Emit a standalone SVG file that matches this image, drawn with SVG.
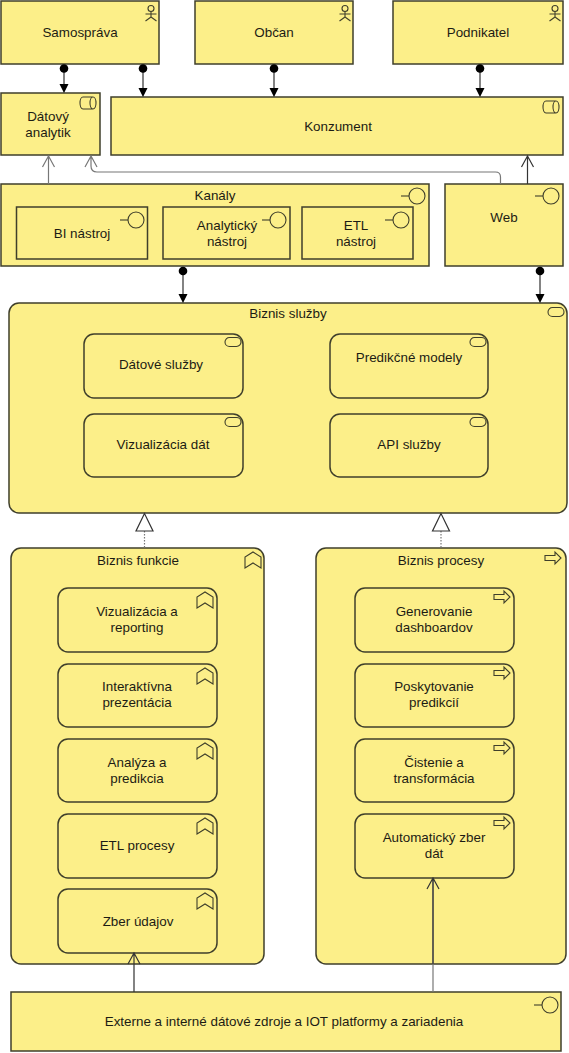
<svg xmlns="http://www.w3.org/2000/svg" width="569" height="1053" viewBox="0 0 569 1053">
<style>
.n{fill:#fcef89;stroke:#3f3f2b;stroke-width:1.5}
.s{fill:none;stroke:#3f3f2b;stroke-width:1.1}
text{font-family:"Liberation Sans",Arial,sans-serif;font-size:13.4px;fill:#1c1c14;text-anchor:middle}
.c{fill:none;stroke:#333;stroke-width:1.2}
.g{fill:none;stroke:#777;stroke-width:1.2}
.d{fill:#000}
</style>
<defs>
<g id="actor" class="s"><circle cx="0" cy="-3.500" r="3"/><path d="M0,-0.500V5M-5.500,2H5.500M-5.500,9L0,5L5.500,9"/></g>
<g id="role" class="s"><path d="M-5,-6H5A3,6 0 0 1 5,6H-5A3,6 0 0 1 -5,-6ZM5,-6A3,6 0 0 0 5,6"/></g>
<g id="iface" class="s"><circle cx="3" cy="0" r="8"/><path d="M-13,0H-5"/></g>
<g id="svc" class="s"><rect x="-8" y="-4.500" width="16" height="9" rx="4.500"/></g>
<g id="func" class="s"><path d="M-8,8V-3L0,-8L8,-3V8L0,3Z"/></g>
<g id="proc" class="s"><path d="M-8,-2.500H2V-6L8,0L2,6V2.500H-8Z"/></g>
</defs>
<g id="samosprava"><rect class="n" x="1" y="1" width="158" height="63"/><use href="#actor" x="151" y="12"/><text x="80" y="37">Samospráva</text></g>
<g id="obcan"><rect class="n" x="195" y="1" width="158" height="63"/><use href="#actor" x="345" y="12"/><text x="274" y="37">Občan</text></g>
<g id="podnikatel"><rect class="n" x="393" y="1" width="170" height="63"/><use href="#actor" x="555" y="12"/><text x="478" y="37">Podnikatel</text></g>
<g id="analytik"><rect class="n" x="1" y="93" width="99" height="62"/><use href="#role" x="88" y="103"/><text x="48" y="121">Dátový</text><text x="48" y="137">analytik</text></g>
<g id="konzument"><rect class="n" x="111" y="97" width="452" height="58"/><use href="#role" x="551" y="107"/><text x="338" y="131">Konzument</text></g>
<g id="kanaly"><rect class="n" x="1" y="184" width="428" height="82"/><use href="#iface" x="414" y="196"/><text x="215" y="200">Kanály</text></g>
<g id="bi"><rect class="n" x="16.500" y="207" width="131" height="52"/><use href="#iface" x="133" y="220"/><text x="82" y="238">BI nástroj</text></g>
<g id="analyticky"><rect class="n" x="163" y="207" width="127" height="52"/><use href="#iface" x="275" y="220"/><text x="227" y="230">Analytický</text><text x="227" y="246">nástroj</text></g>
<g id="etl"><rect class="n" x="302" y="207" width="111" height="52"/><use href="#iface" x="398" y="220"/><text x="356" y="230">ETL</text><text x="356" y="246">nástroj</text></g>
<g id="web"><rect class="n" x="445" y="184" width="118" height="82"/><use href="#iface" x="548" y="196"/><text x="504" y="222">Web</text></g>
<g id="sluzby"><rect class="n" x="9" y="303" width="558" height="210" rx="10"/><use href="#svc" x="556" y="312"/><text x="288" y="318">Biznis služby</text></g>
<g id="datove"><rect class="n" x="84" y="334" width="159" height="64" rx="10"/><use href="#svc" x="233" y="342"/><text x="161" y="369">Dátové služby</text></g>
<g id="predikcne"><rect class="n" x="330" y="334" width="158" height="64" rx="10"/><use href="#svc" x="478" y="342"/><text x="409" y="362">Predikčné modely</text></g>
<g id="vizualizacia"><rect class="n" x="84" y="414" width="159" height="63" rx="10"/><use href="#svc" x="233" y="422"/><text x="163" y="449">Vizualizácia dát</text></g>
<g id="api"><rect class="n" x="330" y="414" width="158" height="63" rx="10"/><use href="#svc" x="478" y="422"/><text x="409" y="449">API služby</text></g>
<g id="funkcie"><rect class="n" x="11" y="548" width="253" height="416" rx="10"/><use href="#func" x="253" y="560"/><text x="138" y="565">Biznis funkcie</text></g>
<g id="f1"><rect class="n" x="58" y="588" width="159" height="64" rx="10"/><use href="#func" x="205" y="600"/><text x="137" y="616">Vizualizácia a</text><text x="137" y="632">reporting</text></g>
<g id="f2"><rect class="n" x="58" y="664" width="159" height="63" rx="10"/><use href="#func" x="205" y="676"/><text x="137" y="691">Interaktívna</text><text x="137" y="707">prezentácia</text></g>
<g id="f3"><rect class="n" x="58" y="739" width="159" height="63" rx="10"/><use href="#func" x="205" y="751"/><text x="137" y="767">Analýza a</text><text x="137" y="783">predikcia</text></g>
<g id="f4"><rect class="n" x="58" y="814" width="159" height="64" rx="10"/><use href="#func" x="205" y="826"/><text x="137" y="850">ETL procesy</text></g>
<g id="f5"><rect class="n" x="58" y="889" width="159" height="64" rx="10"/><use href="#func" x="205" y="901"/><text x="138" y="926">Zber údajov</text></g>
<g id="procesy"><rect class="n" x="316" y="548" width="250" height="416" rx="10"/><use href="#proc" x="553" y="558"/><text x="441" y="565">Biznis procesy</text></g>
<g id="p1"><rect class="n" x="355" y="588" width="159" height="64" rx="10"/><use href="#proc" x="502" y="597"/><text x="434" y="616">Generovanie</text><text x="434" y="632">dashboardov</text></g>
<g id="p2"><rect class="n" x="355" y="664" width="159" height="63" rx="10"/><use href="#proc" x="502" y="673"/><text x="434" y="691">Poskytovanie</text><text x="434" y="707">predikcií</text></g>
<g id="p3"><rect class="n" x="355" y="739" width="159" height="63" rx="10"/><use href="#proc" x="502" y="748"/><text x="434" y="767">Čistenie a</text><text x="434" y="783">transformácia</text></g>
<g id="p4"><rect class="n" x="355" y="814" width="159" height="64" rx="10"/><use href="#proc" x="502" y="823"/><text x="434" y="842">Automatický zber</text><text x="434" y="858">dát</text></g>
<g id="zdroje"><rect class="n" x="11" y="992" width="550" height="59"/><use href="#iface" x="547" y="1005"/><text x="284" y="1026">Externe a interné dátové zdroje a IOT platformy a zariadenia</text></g>
<g id="connectors">
<path class="c" d="M64,68V88M143,68V88M274,68V88M480,68V88M183,271V295M540,271V295"/>
<g class="d"><circle cx="64" cy="68.500" r="4.300"/><circle cx="143" cy="68.500" r="4.300"/><circle cx="274" cy="68.500" r="4.300"/><circle cx="480" cy="68.500" r="4.300"/><circle cx="183" cy="271" r="4.300"/><circle cx="540" cy="271" r="4.300"/>
<path d="M59.500,84H68.500L64,93ZM138.500,88H147.500L143,97ZM269.500,88H278.500L274,97ZM475.500,88H484.500L480,97ZM178.500,294H187.500L183,303ZM535.500,294H544.500L540,303Z"/></g>
<path class="g" d="M48.500,184V156M42.500,167L48.500,156L54.500,167"/>
<path class="g" d="M500.500,184V177Q500.500,172 495.500,172H97Q91,172 91,166V156M85,167L91,156L97,167"/>
<path class="c" d="M527.500,184V156M521.500,167L527.500,156L533.500,167"/>
<path class="g" stroke-dasharray="1.500 1.500" d="M144.500,531V548M441,531V548"/>
<path d="M144.500,513.500L136,531H153ZM441,513.500L432.500,531H449.500Z" fill="#fff" stroke="#333" stroke-width="1.200"/>
<path class="c" d="M134,992V953M128,964L134,953L140,964"/>
<path class="g" d="M433,992V878"/>
<path class="c" d="M433,964V878M427,889L433,878L439,889"/>
</g>
</svg>
